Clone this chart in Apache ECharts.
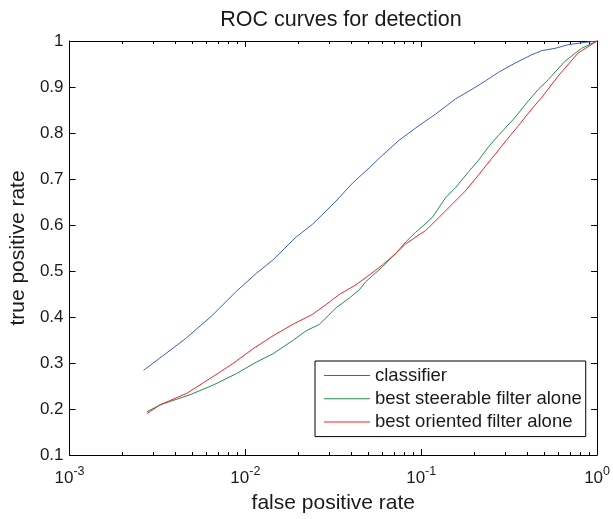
<!DOCTYPE html>
<html>
<head>
<meta charset="utf-8">
<script src="https://cdn.jsdelivr.net/npm/echarts@6/dist/echarts.min.js"></script>
<style>html,body{margin:0;padding:0;background:#fff}#c{width:613px;height:519px}</style>
</head>
<body>
<div id="c"></div>
<script>
var classifierFpr = [0.002634,0.004535,0.006421,0.008896,0.01155,0.01434,0.01944,0.02414,0.03276,0.04066,0.05056,0.05758,0.07472,0.0970,0.1206,0.1565,0.1943,0.2313,0.2752,0.342,0.4246,0.4838,0.576,0.685,0.852,1.0];
var classifierTpr = [0.284,0.352,0.402,0.456,0.495,0.524,0.574,0.602,0.652,0.691,0.724,0.745,0.784,0.816,0.841,0.874,0.895,0.913,0.932,0.952,0.970,0.979,0.984,0.992,0.997,1.0];

var steerableFpr = [0.002754,0.003274,0.00484,0.006557,0.008896,0.01155,0.01434,0.01861,0.02216,0.02635,0.03276,0.03896,0.04438,0.04843,0.06012,0.07157,0.08156,0.0929,0.1154,0.1373,0.1565,0.1862,0.2121,0.2415,0.2752,0.342,0.4068,0.4634,0.528,0.6566,0.815,1.0];
var steerableTpr = [0.194,0.209,0.231,0.252,0.277,0.302,0.320,0.349,0.370,0.384,0.420,0.441,0.459,0.477,0.509,0.538,0.563,0.584,0.616,0.659,0.681,0.716,0.741,0.770,0.795,0.834,0.870,0.895,0.916,0.956,0.984,1.0];

var orientedFpr = [0.002754,0.003274,0.004636,0.006281,0.008511,0.01105,0.01434,0.01861,0.02414,0.02875,0.03419,0.04252,0.05056,0.06012,0.07157,0.08156,0.1059,0.1259,0.1497,0.1783,0.2121,0.2522,0.3003,0.3571,0.4246,0.4838,0.6014,0.7806,1.0];
var orientedTpr = [0.190,0.209,0.234,0.266,0.299,0.331,0.359,0.384,0.406,0.427,0.449,0.470,0.491,0.513,0.538,0.559,0.588,0.616,0.645,0.674,0.709,0.745,0.781,0.816,0.852,0.877,0.924,0.974,1.0];

var seriesNames = ['classifier', 'best steerable filter alone', 'best oriented filter alone'];
var seriesColors = ['#3a5fc6', '#22904e', '#f2252b'];
var minorTickValues = [];
[-3,-2,-1].forEach(function(d){ for (var k = 2; k <= 9; k++) minorTickValues.push(k * Math.pow(10, d)); });

function zip(a, b) { return a.map(function(v, i){ return [v, b[i]]; }); }

var FONT = '"Liberation Sans", Arial, Helvetica, sans-serif';
var TXT = '#1a1a1a';

function lineSeries(i, fpr, tpr) {
  return {
    name: seriesNames[i], type: 'line', data: zip(fpr, tpr),
    symbol: 'none', smooth: false,
    lineStyle: { color: seriesColors[i], width: 1 }, itemStyle: { color: seriesColors[i] }
  };
}

var chart = echarts.init(document.getElementById('c'));
chart.setOption({
  backgroundColor: '#fff',
  animation: false,
  textStyle: { fontFamily: FONT },
  title: {
    text: 'ROC curves for detection',
    left: 336, top: 4, textAlign: 'center',
    textStyle: { fontFamily: FONT, fontSize: 21.5, fontWeight: 'normal', color: TXT }
  },
  grid: { left: 69, right: 14, top: 41, bottom: 58 },
  legend: {
    data: seriesNames,
    orient: 'vertical',
    left: 315, top: 361,
    icon: 'path://M0,0H46V1H0Z',
    itemWidth: 46, itemHeight: 14, itemGap: 4.3,
    padding: [5, 4, 5, 9],
    borderColor: '#000', borderWidth: 1, backgroundColor: '#fff',
    textStyle: { fontFamily: FONT, fontSize: 18.5, color: TXT }
  },
  xAxis: [{
    type: 'log', logBase: 10, min: 0.001, max: 1,
    position: 'bottom',
    name: 'false positive rate', nameLocation: 'middle', nameGap: 38,
    nameTextStyle: { fontFamily: FONT, fontSize: 21, color: TXT },
    axisLine: { show: true, lineStyle: { color: '#000', width: 1 } },
    axisTick: { show: true, inside: true, length: 6, lineStyle: { color: '#000' } },
    splitLine: { show: false },
    axisLabel: {
      margin: 10, color: TXT,
      formatter: function(v){ return '{b|10}{s|' + Math.round(Math.log10(v)) + '}'; },
      rich: {
        b: { fontFamily: FONT, fontSize: 17, color: TXT },
        s: { fontFamily: FONT, fontSize: 12.5, color: TXT, padding: [0, 0, 14, 0] }
      }
    }
  }, {
    type: 'log', logBase: 10, min: 0.001, max: 1,
    position: 'top',
    axisLine: { show: true, lineStyle: { color: '#000', width: 1 } },
    axisTick: { show: true, inside: true, length: 6, lineStyle: { color: '#000' } },
    axisLabel: { show: false },
    splitLine: { show: false }
  }],
  yAxis: [{
    type: 'value', min: 0.1, max: 1, interval: 0.1,
    position: 'left',
    name: 'true positive rate', nameLocation: 'middle', nameGap: 37,
    nameTextStyle: { fontFamily: FONT, fontSize: 21, color: TXT },
    axisLine: { show: true, lineStyle: { color: '#000', width: 1 } },
    axisTick: { show: true, inside: true, length: 6, lineStyle: { color: '#000' } },
    splitLine: { show: false },
    axisLabel: {
      margin: 6, color: TXT, fontFamily: FONT, fontSize: 17,
      formatter: function(v){ return Math.abs(v - 1) < 1e-9 ? '1' : v.toFixed(1); }
    }
  }, {
    type: 'value', min: 0.1, max: 1, interval: 0.1,
    position: 'right',
    axisLine: { show: true, lineStyle: { color: '#000', width: 1 } },
    axisTick: { show: true, inside: true, length: 6, lineStyle: { color: '#000' } },
    axisLabel: { show: false },
    splitLine: { show: false }
  }],
  series: [
    lineSeries(0, classifierFpr, classifierTpr),
    lineSeries(1, steerableFpr, steerableTpr),
    lineSeries(2, orientedFpr, orientedTpr),
    {
      name: 'minorTicks', type: 'custom', silent: true, clip: false,
      data: minorTickValues.map(function(v){ return [v, 0.1]; }),
      renderItem: function(params, api) {
        var v = api.value(0);
        var b = api.coord([v, 0.1]);
        var t = api.coord([v, 1]);
        var x = Math.round(b[0]) + 0.5;
        return { type: 'group', children: [
          { type: 'line', shape: { x1: x, y1: b[1], x2: x, y2: b[1] - 3 }, style: { stroke: '#000', lineWidth: 1 } },
          { type: 'line', shape: { x1: x, y1: t[1], x2: x, y2: t[1] + 3 }, style: { stroke: '#000', lineWidth: 1 } }
        ]};
      }
    }
  ]
});
</script>
</body>
</html>
